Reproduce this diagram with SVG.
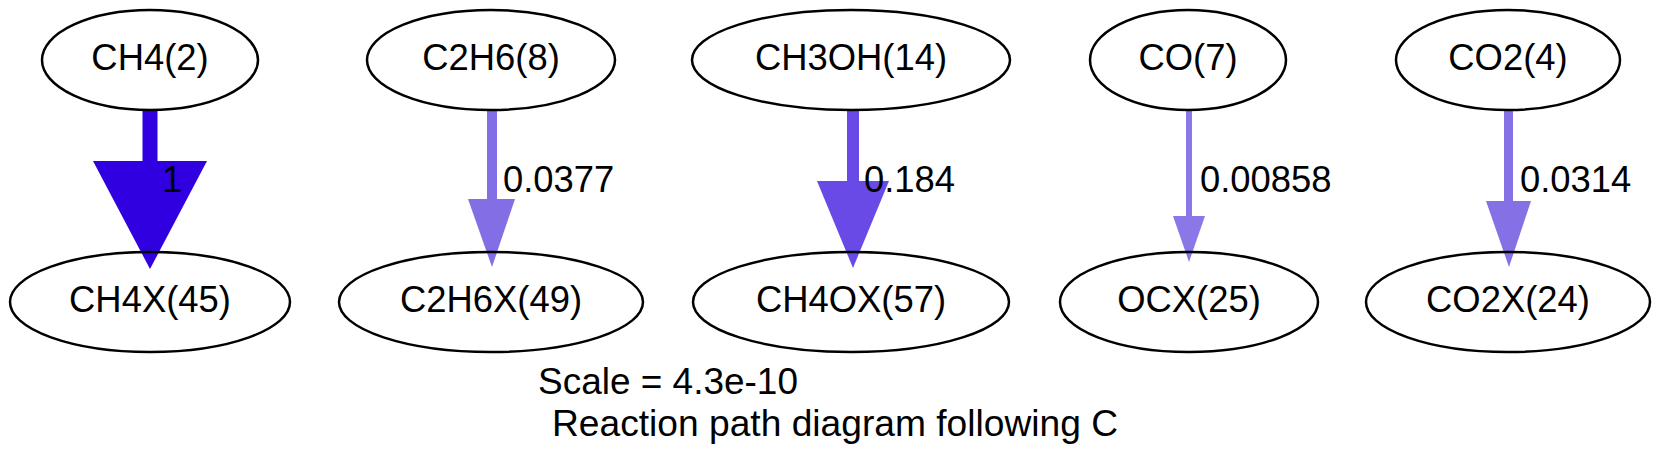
<svg xmlns="http://www.w3.org/2000/svg" width="1660" height="469" viewBox="0 0 1660 469">
<style>
.node ellipse{fill:none;stroke:#000;stroke-width:2.5}
text{font-family:"Liberation Sans",Arial,Helvetica,sans-serif;font-size:36.4px;fill:#000}
.node text{text-anchor:middle}
</style>
<rect width="1660" height="469" fill="#fff"/>
<g id="connectors">
<g id="e1"><rect x="142.5" y="111" width="15" height="51" fill="#3000e0"/><polygon points="93,161 207,161 150,269" fill="#3000e0"/><text x="162" y="192">1</text></g>
<g id="e2"><rect x="487" y="111" width="10" height="89" fill="#846ee6"/><polygon points="468,199 515,199 492,267" fill="#846ee6"/><text x="503" y="192">0.0377</text></g>
<g id="e3"><rect x="847" y="111" width="12" height="71" fill="#6a4ae6"/><polygon points="817,181 889,181 853,268" fill="#6a4ae6"/><text x="864" y="192">0.184</text></g>
<g id="e4"><rect x="1186" y="111" width="6" height="106" fill="#8b77e8"/><polygon points="1173,216 1205,216 1189,262" fill="#8b77e8"/><text x="1200" y="192">0.00858</text></g>
<g id="e5"><rect x="1504" y="111" width="9" height="91" fill="#8670e6"/><polygon points="1486,201 1531,201 1509,267" fill="#8670e6"/><text x="1520" y="192">0.0314</text></g>
</g>
<g id="CH4" class="node"><ellipse cx="150" cy="60" rx="108" ry="50"/><text x="150" y="70">CH4(2)</text></g>
<g id="CH4X" class="node"><ellipse cx="150" cy="302" rx="140" ry="50"/><text x="150" y="312">CH4X(45)</text></g>
<g id="C2H6" class="node"><ellipse cx="491" cy="60" rx="124" ry="50"/><text x="491" y="70">C2H6(8)</text></g>
<g id="C2H6X" class="node"><ellipse cx="491" cy="302" rx="152" ry="50"/><text x="491" y="312">C2H6X(49)</text></g>
<g id="CH3OH" class="node"><ellipse cx="851" cy="60" rx="159" ry="50"/><text x="851" y="70">CH3OH(14)</text></g>
<g id="CH4OX" class="node"><ellipse cx="851" cy="302" rx="158" ry="50"/><text x="851" y="312">CH4OX(57)</text></g>
<g id="CO" class="node"><ellipse cx="1188" cy="60" rx="98" ry="50"/><text x="1188" y="70">CO(7)</text></g>
<g id="OCX" class="node"><ellipse cx="1189" cy="302" rx="129" ry="50"/><text x="1189" y="312">OCX(25)</text></g>
<g id="CO2" class="node"><ellipse cx="1508" cy="60" rx="112" ry="50"/><text x="1508" y="70">CO2(4)</text></g>
<g id="CO2X" class="node"><ellipse cx="1508" cy="302" rx="142" ry="50"/><text x="1508" y="312">CO2X(24)</text></g>
<g id="title">
<text x="538" y="394" textLength="260" lengthAdjust="spacingAndGlyphs">Scale = 4.3e-10</text>
<text x="552" y="436" textLength="566" lengthAdjust="spacingAndGlyphs">Reaction path diagram following C</text>
</g>
</svg>
